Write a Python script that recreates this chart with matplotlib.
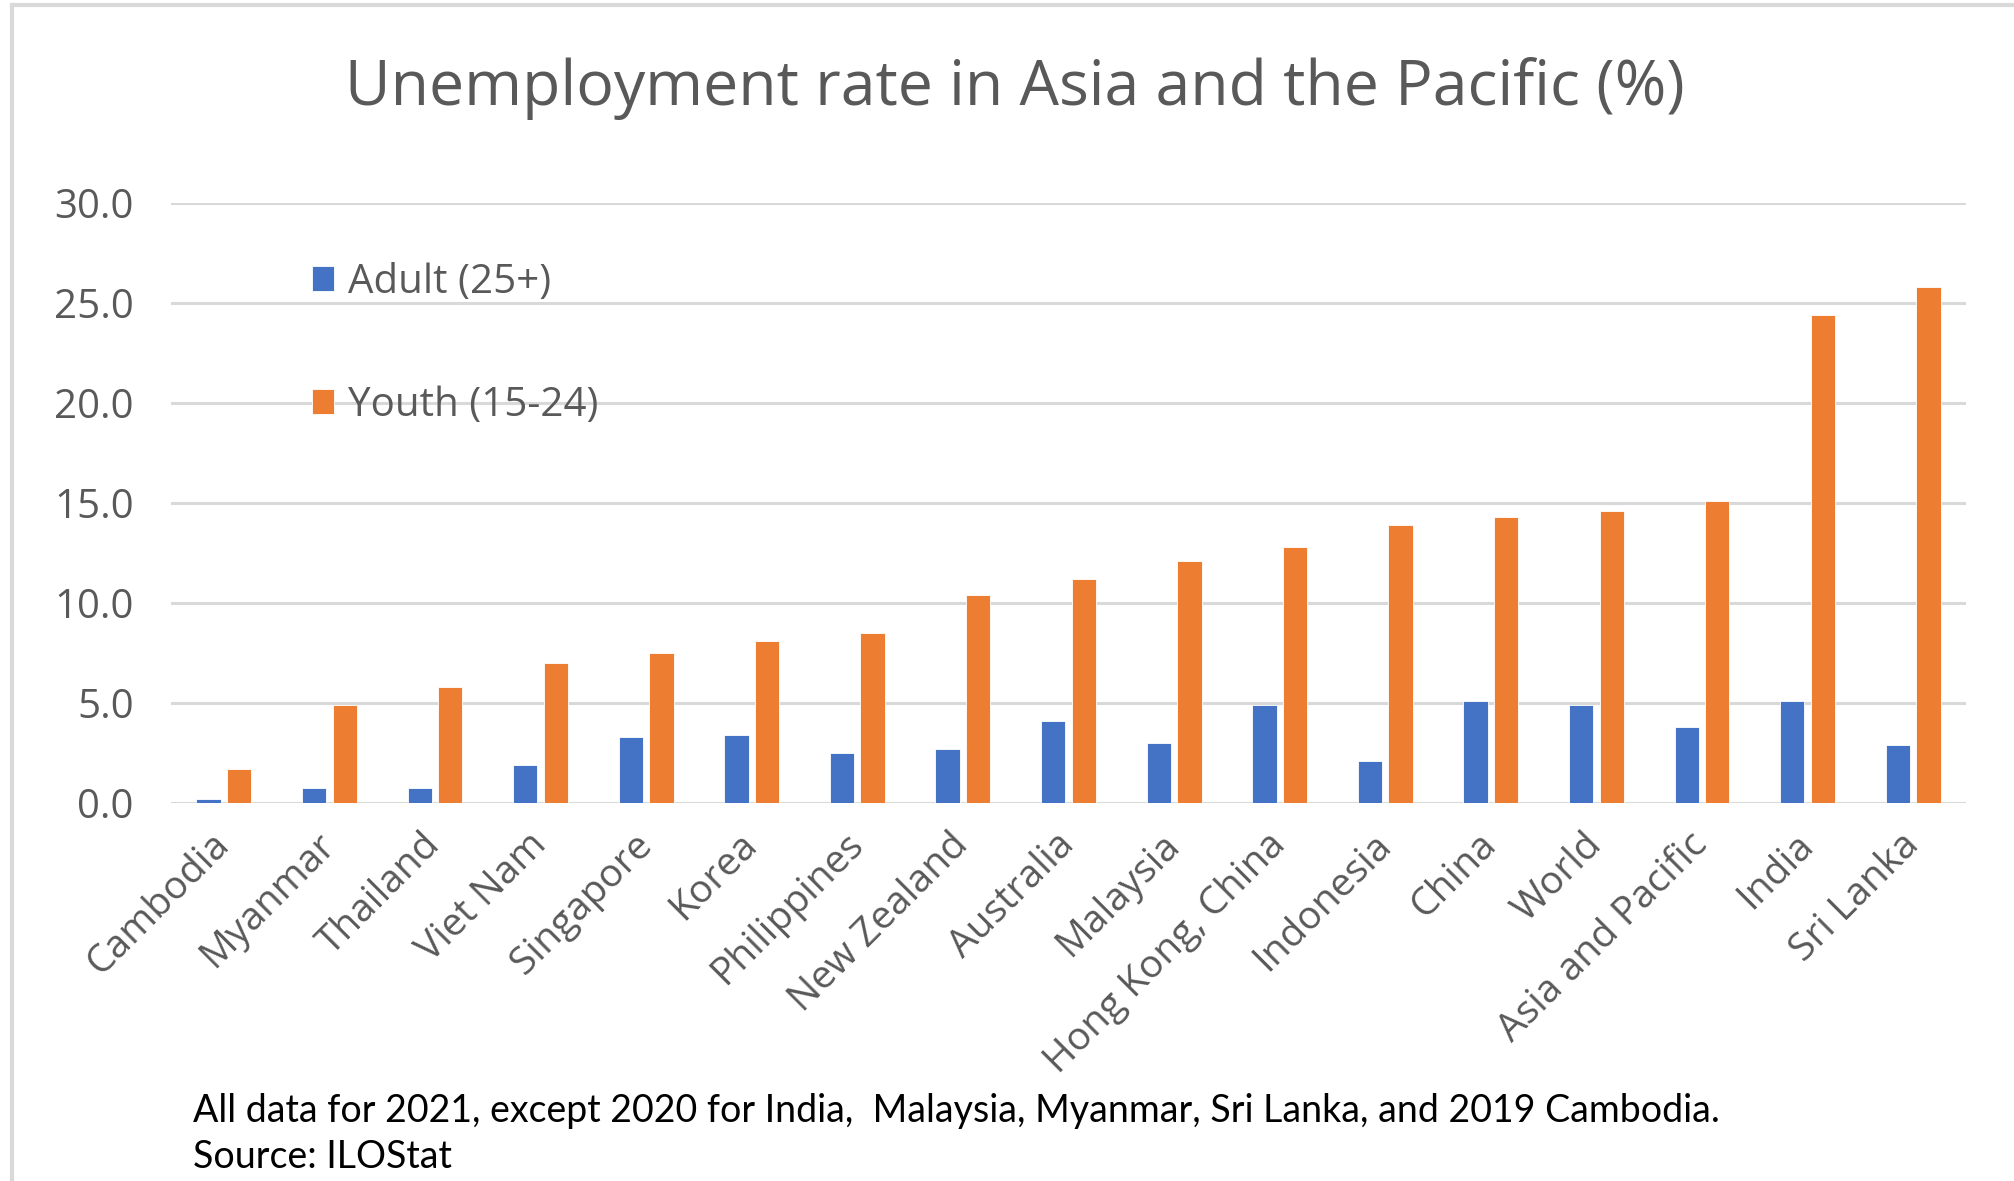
import matplotlib
matplotlib.use("Agg")
import matplotlib.pyplot as plt
from matplotlib.lines import Line2D
import numpy as np

countries = ["Cambodia", "Myanmar", "Thailand", "Viet Nam", "Singapore", "Korea",
             "Philippines", "New Zealand", "Australia", "Malaysia", "Hong Kong, China",
             "Indonesia", "China", "World", "Asia and Pacific", "India", "Sri Lanka"]
adult = [0.2, 0.75, 0.75, 1.9, 3.3, 3.4, 2.5, 2.7, 4.1, 3.0, 4.9, 2.1, 5.1, 4.9, 3.8, 5.1, 2.9]
youth = [1.7, 4.9, 5.8, 7.0, 7.5, 8.1, 8.5, 10.4, 11.2, 12.1, 12.8, 13.9, 14.3, 14.6, 15.1, 24.4, 25.8]
yticks = [0, 5, 10, 15, 20, 25, 30]

W, H = 2015, 1181
blue = "#4472C4"
orange = "#ED7D31"
grey = "#595959"
font = ["Open Sans", "DejaVu Sans"]
plt.rcParams["font.family"] = font

fig = plt.figure(figsize=(W / 100, H / 100), dpi=100)
ax = fig.add_axes([171 / W, 1 - 803 / H, (1966 - 171) / W, (803 - 203) / H])

x = np.arange(len(countries))
bw = 0.23
b1 = ax.bar(x - 0.145, adult, bw, color=blue, edgecolor="white", linewidth=0.6, label="Adult (25+)", zorder=3)
b2 = ax.bar(x + 0.145, youth, bw, color=orange, edgecolor="white", linewidth=0.6, label="Youth (15-24)", zorder=3)

ax.set_xlim(-0.5, len(countries) - 0.5)
ax.set_ylim(0, 30)
ax.set_yticks(yticks)
ax.set_yticklabels([f"{v:.1f}" for v in yticks])
ax.yaxis.grid(True, color="#d9d9d9", linewidth=2.2, zorder=0)
ax.set_axisbelow(True)
for s in ax.spines.values():
    s.set_visible(False)
ax.tick_params(axis="y", length=0, pad=27, labelsize=29, labelcolor=grey)
ax.tick_params(axis="x", length=0, pad=26, labelsize=28, labelcolor=grey)
ax.set_xticks(x)
ax.set_xticklabels(countries, rotation=45, ha="right", va="center", rotation_mode="anchor")

leg = ax.legend(handles=[b1, b2], loc="center left", bbox_to_anchor=(292 / W, 1 - 344 / H),
                bbox_transform=fig.transFigure, frameon=False, fontsize=29,
                labelspacing=2.05, handlelength=0.55, handleheight=0.55, handletextpad=0.35,
                borderpad=0)
for t in leg.get_texts():
    t.set_color(grey)

fig.text(1015 / W, 1 - 88 / H, "Unemployment rate in Asia and the Pacific (%)",
         ha="center", va="center", fontsize=45, color=grey)

foot = ["Lato", "DejaVu Sans"]
fig.text(193 / W, 1 - 1111 / H,
         "All data for 2021, except 2020 for India,  Malaysia, Myanmar, Sri Lanka, and 2019 Cambodia.",
         ha="left", va="center", fontsize=27, color="black", family=foot)
fig.text(193 / W, 1 - 1157 / H, "Source: ILOStat",
         ha="left", va="center", fontsize=27, color="black", family=foot)

# light frame of the original screenshot
fig.add_artist(Line2D([12 / W, 12 / W], [0, 1 - 5 / H], transform=fig.transFigure, color="#d9d9d9", linewidth=3))
fig.add_artist(Line2D([12 / W, 1], [1 - 5 / H, 1 - 5 / H], transform=fig.transFigure, color="#d9d9d9", linewidth=3))

fig.savefig("out.png", dpi=100)
